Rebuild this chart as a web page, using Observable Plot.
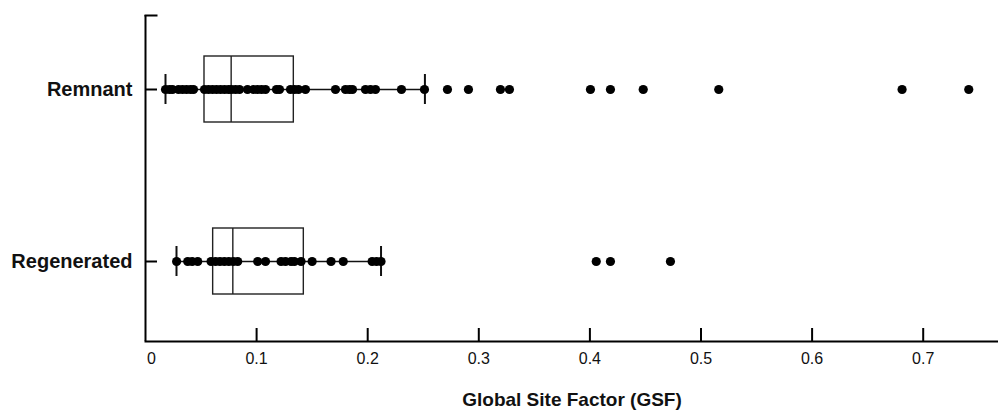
<!DOCTYPE html>
<html>
<head>
<meta charset="utf-8">
<script src="https://cdn.jsdelivr.net/npm/d3@7"></script>
<script src="https://cdn.jsdelivr.net/npm/@observablehq/plot@0.6"></script>
<style>
  html, body { margin: 0; padding: 0; background: #fff; }
  #chart svg { display: block; }
</style>
</head>
<body>
<div id="chart"></div>
<script>
const categories = ["Remnant", "Regenerated"];

const remnantGSF = [
  0.018, 0.0216, 0.0243, 0.0297, 0.0333, 0.0369, 0.0405, 0.0432,
  0.0531, 0.0567, 0.0603, 0.0639, 0.0675, 0.0711, 0.0747, 0.0774,
  0.081, 0.0846, 0.0918, 0.0972, 0.1008, 0.1044, 0.108, 0.1179,
  0.1206, 0.1305, 0.1341, 0.1377, 0.144, 0.171, 0.18, 0.1836,
  0.1863, 0.198, 0.2025, 0.207, 0.2304, 0.2511, 0.2718, 0.2907,
  0.3195, 0.3276, 0.4005, 0.4185, 0.448, 0.516, 0.681, 0.741
];

const regeneratedGSF = [
  0.028, 0.038, 0.042, 0.047, 0.059, 0.063, 0.067, 0.071,
  0.075, 0.079, 0.083, 0.101, 0.108, 0.122, 0.126, 0.131,
  0.134, 0.140, 0.150, 0.167, 0.178, 0.204, 0.208, 0.212,
  0.4057, 0.4185, 0.4725
];

const boxQ1 = [0.0531, 0.0609];
const boxMedian = [0.0771, 0.0786];
const boxQ3 = [0.1335, 0.1425];
const whiskerLow = [0.018, 0.0279];
const whiskerHigh = [0.2515, 0.212];

const xTicks = [0, 0.1, 0.2, 0.3, 0.4, 0.5, 0.6, 0.7];
const xTickLabels = ["0", "0.1", "0.2", "0.3", "0.4", "0.5", "0.6", "0.7"];
const xLabel = "Global Site Factor (GSF)";

const stats = categories.map((c, i) => ({
  cat: c, q1: boxQ1[i], med: boxMedian[i], q3: boxQ3[i], lo: whiskerLow[i], hi: whiskerHigh[i]
}));
const points = [
  ...remnantGSF.map(v => ({cat: "Remnant", v})),
  ...regeneratedGSF.map(v => ({cat: "Regenerated", v}))
];
const tickRows = xTicks.map((t, i) => ({t, label: xTickLabels[i]}));

const W = 998, H = 411;
const mL = 145, mR = 0, mT = 15, mB = 70;
const frameW = W - mL - mR, frameH = H - mT - mB;
const FONT = "'Liberation Sans', Arial, Helvetica, sans-serif";

const chart = Plot.plot({
  width: W,
  height: H,
  marginLeft: mL,
  marginRight: mR,
  marginTop: mT,
  marginBottom: mB,
  style: {fontFamily: FONT, background: "#fff", color: "#000", overflow: "visible"},
  x: {domain: [0, frameW / 1111], range: [mL, W - mR], axis: null},
  y: {type: "band", domain: categories, range: [3, 347], paddingInner: 0, paddingOuter: 0, axis: null},
  marks: [
    // axes lines
    Plot.ruleX([0], {stroke: "#000", strokeWidth: 2}),
    Plot.frame({anchor: "bottom", stroke: "#000", strokeWidth: 2}),
    Plot.frame({anchor: "top", insetRight: frameW - 11, stroke: "#000", strokeWidth: 2}),
    // x ticks (inward)
    Plot.ruleX(xTicks.slice(1), {stroke: "#000", strokeWidth: 2, insetTop: frameH - 13}),
    // y ticks (inward)
    Plot.ruleY(categories, {y: d => d, stroke: "#000", strokeWidth: 2, insetRight: frameW - 12}),
    // x tick labels
    Plot.text(tickRows.slice(0, 1), {x: "t", text: "label", frameAnchor: "bottom", dy: 17, dx: 1.5, textAnchor: "start", lineAnchor: "middle", fontSize: 16, fill: "#111"}),
    Plot.text(tickRows.slice(1), {x: "t", text: "label", frameAnchor: "bottom", dy: 17, lineAnchor: "middle", fontSize: 16, fill: "#111"}),
    // y labels
    Plot.text(categories, {y: d => d, text: d => d, frameAnchor: "left", dx: -13, textAnchor: "end", lineAnchor: "middle", fontSize: 20, fontWeight: "bold", fill: "#111"}),
    // x axis label
    Plot.text([xLabel], {text: d => d, frameAnchor: "bottom", dy: 58, lineAnchor: "middle", fontSize: 19, fontWeight: "bold", fill: "#111"}),
    // whiskers
    Plot.ruleY(stats, {y: "cat", x1: "lo", x2: "hi", stroke: "#111", strokeWidth: 1.5}),
    Plot.tickX(stats, {x: "lo", y: "cat", insetTop: 71, insetBottom: 71, stroke: "#111", strokeWidth: 2}),
    Plot.tickX(stats, {x: "hi", y: "cat", insetTop: 71, insetBottom: 71, stroke: "#111", strokeWidth: 2}),
    // boxes
    Plot.barX(stats, {y: "cat", x1: "q1", x2: "q3", insetTop: 53, insetBottom: 53, fill: "none", stroke: "#222", strokeWidth: 1.4}),
    Plot.tickX(stats, {x: "med", y: "cat", insetTop: 53, insetBottom: 53, stroke: "#222", strokeWidth: 1.4}),
    // points
    Plot.dot(points, {x: "v", y: "cat", r: 4.6, fill: "#000", stroke: "none"})
  ]
});

document.getElementById("chart").appendChild(chart);
</script>
</body>
</html>
